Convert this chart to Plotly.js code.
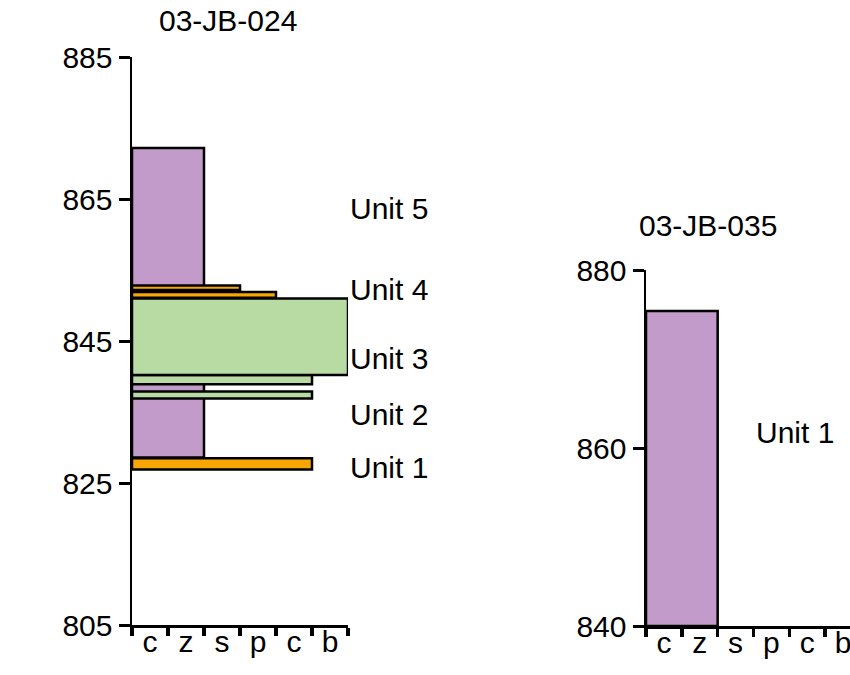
<!DOCTYPE html>
<html>
<head>
<meta charset="utf-8">
<script src="https://cdn.plot.ly/plotly-3.0.1.min.js"></script>
<style>
html,body{margin:0;padding:0;overflow:hidden;background:#fff;}
#chart{width:870px;height:675px;}
</style>
</head>
<body>
<div id="chart"></div>
<script>
// Grain-size categories (x axis)
var grainLabels = ['c', 'z', 's', 'p', 'c', 'b'];

// Section 03-JB-024 beds (draw order)
var jb024Bottom = [828.6, 826.9, 836.9, 838.9, 840.2, 851.1, 852.2];
var jb024Top    = [872.2, 828.5, 837.9, 840.2, 851.0, 851.9, 852.8];
var jb024Grain  = [2, 5, 5, 5, 6, 4, 3];
var jb024Litho  = ['mud', 'gravel', 'sand', 'sand', 'sand', 'gravel', 'gravel'];
var jb024Units  = ['Unit 5', 'Unit 4', 'Unit 3', 'Unit 2', 'Unit 1'];
var jb024UnitDepth = [863.7, 852.2, 842.6, 834.7, 827.2];

// Section 03-JB-035 beds
var jb035Bottom = [840.0];
var jb035Top    = [875.4];
var jb035Grain  = [2];
var jb035Litho  = ['mud'];
var jb035Units  = ['Unit 1'];
var jb035UnitDepth = [861.7];

var lithoColor = {mud: '#C39BCA', sand: '#B8DBA4', gravel: '#F9A603'};
var FONT = 'Liberation Sans, Arial, Helvetica, sans-serif';
var FS = 30;

function bedTrace(bottom, top, grain, litho, xa, ya) {
  return {
    type: 'bar', orientation: 'h',
    y: bottom.map(function (b, i) { return (b + top[i]) / 2; }),
    width: bottom.map(function (b, i) { return top[i] - b; }),
    x: grain, base: 0,
    xaxis: xa, yaxis: ya,
    marker: {color: litho.map(function (l) { return lithoColor[l]; }),
             line: {color: '#000', width: 2.5}},
    hoverinfo: 'skip', showlegend: false
  };
}

var catCenters = grainLabels.map(function (g, i) { return i + 0.5; });
var boundaries = grainLabels.map(function (g, i) { return i; }).concat([grainLabels.length]);

function xAxis(domain, anchor) {
  return {
    domain: domain, anchor: anchor, range: [0, 6], fixedrange: true,
    showline: true, linecolor: '#000', linewidth: 2.5, zeroline: false, showgrid: false,
    tickmode: 'array', tickvals: catCenters, ticktext: grainLabels, ticks: '',
    ticklabelstandoff: -12,
    tickfont: {family: FONT, size: FS, color: '#000'},
    minor: {tickmode: 'array', tickvals: boundaries, ticks: 'outside', ticklen: 8, tickwidth: 3.5, tickcolor: '#000', showgrid: false}
  };
}
function yAxis(domain, anchor, range, tick0) {
  return {
    domain: domain, anchor: anchor, range: range, fixedrange: true,
    showline: true, linecolor: '#000', linewidth: 2.5, zeroline: false, showgrid: false,
    tick0: tick0, dtick: 20, ticks: 'outside', ticklen: 11, tickwidth: 3, tickcolor: '#000',
    tickfont: {family: FONT, size: FS, color: '#000'}
  };
}

var annotations = [];
annotations.push({text: '03-JB-024', xref: 'paper', yref: 'paper', x: 227.5 / 870, y: 1 - 21 / 675,
  xanchor: 'center', yanchor: 'middle', showarrow: false, font: {family: FONT, size: FS, color: '#000'}});
annotations.push({text: '03-JB-035', xref: 'paper', yref: 'paper', x: 708 / 870, y: 1 - 226 / 675,
  xanchor: 'center', yanchor: 'middle', showarrow: false, font: {family: FONT, size: FS, color: '#000'}});
jb024Units.forEach(function (u, i) {
  annotations.push({text: u, xref: 'x', yref: 'y', x: 6, y: jb024UnitDepth[i], xanchor: 'left', yanchor: 'middle',
    showarrow: false, font: {family: FONT, size: FS, color: '#000'}});
});
jb035Units.forEach(function (u, i) {
  annotations.push({text: u, xref: 'x2', yref: 'y2', x: 3, y: jb035UnitDepth[i], xanchor: 'left', yanchor: 'middle',
    showarrow: false, font: {family: FONT, size: FS, color: '#000'}});
});

var data = [
  bedTrace(jb024Bottom, jb024Top, jb024Grain, jb024Litho, 'x', 'y'),
  bedTrace(jb035Bottom, jb035Top, jb035Grain, jb035Litho, 'x2', 'y2')
];

var layout = {
  width: 870, height: 675,
  margin: {l: 0, r: 0, t: 0, b: 0, pad: 0},
  paper_bgcolor: '#fff', plot_bgcolor: 'rgba(0,0,0,0)',
  barmode: 'overlay', showlegend: false,
  font: {family: FONT, size: FS, color: '#000'},
  xaxis: xAxis([132 / 870, 348 / 870], 'y'),
  yaxis: yAxis([1 - 625 / 675, 1 - 57 / 675], 'x', [805, 885], 805),
  xaxis2: xAxis([646 / 870, 861 / 870], 'y2'),
  yaxis2: yAxis([1 - 626 / 675, 1 - 270 / 675], 'x2', [840, 880], 840),
  annotations: annotations
};

Plotly.newPlot('chart', data, layout, {staticPlot: true, displayModeBar: false});
</script>
</body>
</html>
